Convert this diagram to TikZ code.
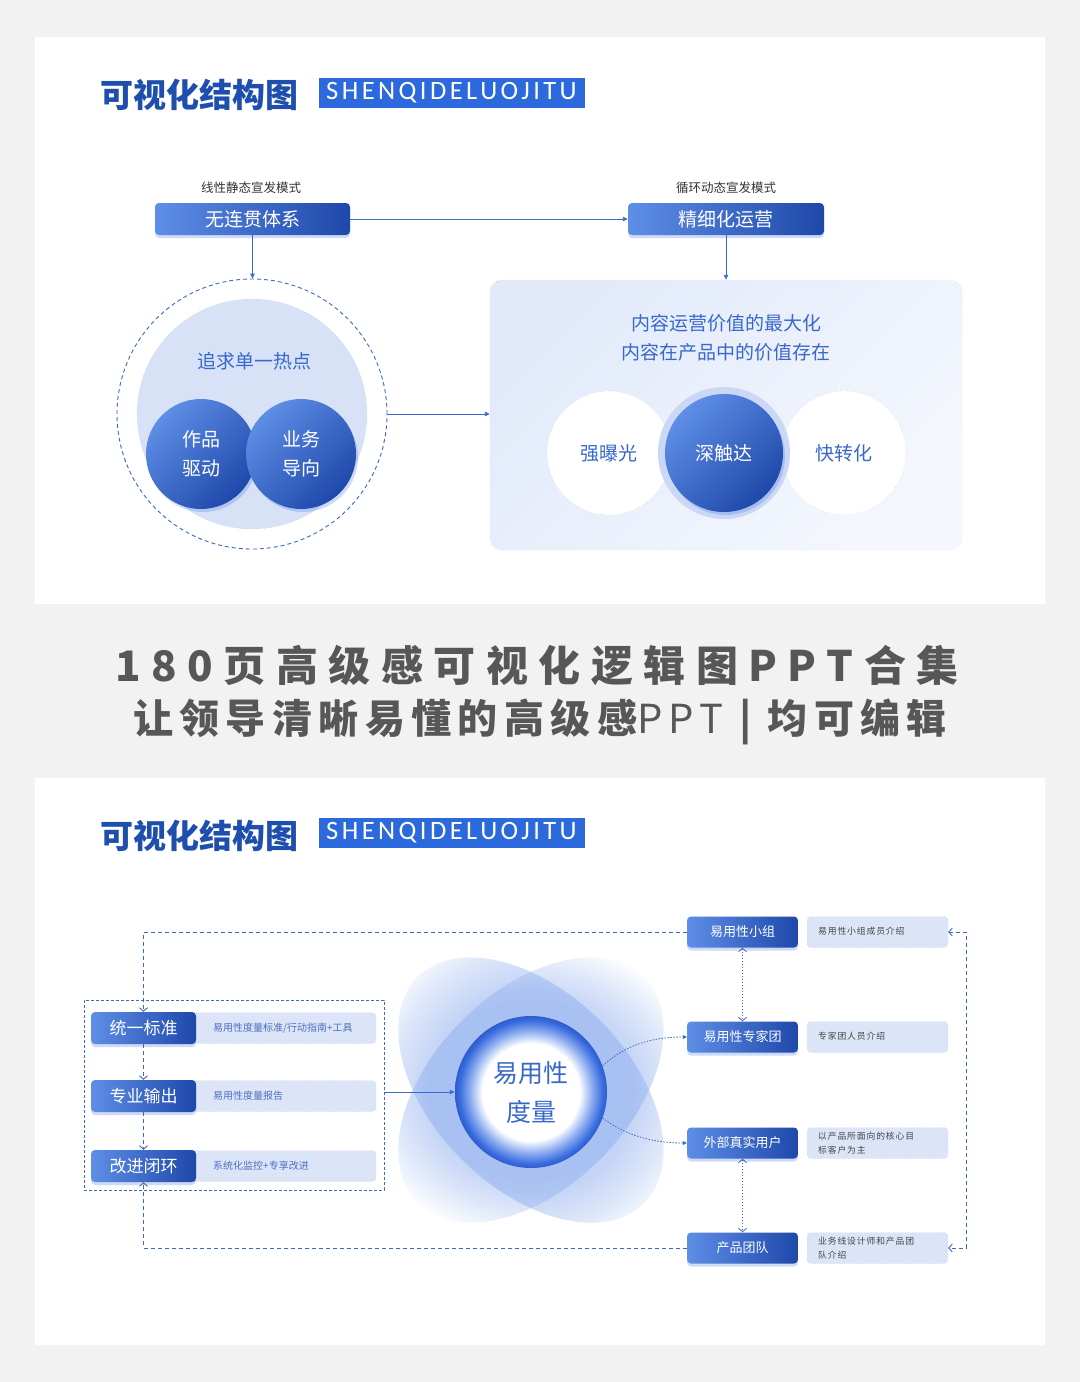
\documentclass[tikz,border=0pt]{standalone}
\usepackage{fontspec}
\setmainfont{Noto Sans CJK SC}
\newfontfamily\latinfont{Carlito}
\usetikzlibrary{arrows.meta,shadows,fadings,calc}
\definecolor{pagebg}{HTML}{F2F2F2}
\definecolor{boxlight}{HTML}{5E8EE6}
\definecolor{boxdark}{HTML}{1E48AA}
\definecolor{glowc}{HTML}{3D6FE0}
\definecolor{titleblue}{HTML}{1E4FAF}
\definecolor{tagblue}{HTML}{2B69DD}
\definecolor{textblue}{HTML}{3868CC}
\definecolor{lightcircle}{HTML}{D7E2F7}
\definecolor{dotgray}{HTML}{A8B8D8}
\definecolor{rbA}{HTML}{E2EAFA}
\definecolor{rbB}{HTML}{F4F7FD}
\definecolor{loopblue}{HTML}{3E68C2}
\definecolor{arrowblue}{HTML}{3A6AD0}
\definecolor{lightboxc}{HTML}{DCE5F8}
\definecolor{lightborder}{HTML}{A3B6E0}
\definecolor{smallblue}{HTML}{4D6FC0}
\definecolor{smallgray}{HTML}{444444}
\definecolor{midgray}{HTML}{575757}
\definecolor{labelgray}{HTML}{333333}
\definecolor{glowring}{HTML}{CAD8F6}
\definecolor{petalc}{HTML}{94B2EF}
\definecolor{ringmid}{HTML}{8FAEF0}
\definecolor{ringblue}{HTML}{3A6EE0}
\definecolor{ringdark}{HTML}{2D5CCB}
\pgfdeclareradialshading{ringsh}{\pgfpointorigin}{color(0bp)=(white); color(16bp)=(white); color(20bp)=(ringmid); color(23.5bp)=(ringblue); color(25bp)=(ringdark); color(50bp)=(ringdark)}
\pgfdeclareradialshading{petalsh}{\pgfpointorigin}{color(0bp)=(white); color(17bp)=(white); color(23bp)=(black!45); color(29bp)=(black); color(50bp)=(black)}
\pgfdeclarefading{petalfade}{\pgfuseshading{petalsh}}
\tikzset{
  darkbox/.style={rounded corners=4pt, left color=boxlight, right color=boxdark, text=white, inner sep=0pt,
    drop shadow={shadow xshift=0pt, shadow yshift=-3pt, fill=glowc, opacity=0.25}},
  darkcircle/.style={circle, inner sep=0pt, left color=boxlight, right color=boxdark, shading angle=45, text=white, align=center,
    drop shadow={shadow xshift=2pt, shadow yshift=-3pt, fill=glowc, opacity=0.25}},
  whitecircle/.style={circle, inner sep=0pt, fill=white, draw=dotgray, dotted, minimum size=124pt, text=textblue, font=\fontsize{19}{19}\selectfont},
  lightbox/.style={rounded corners=4pt, fill=lightboxc, draw=lightborder, dotted, inner sep=0pt},
  labeltxt/.style={text=labelgray, font=\fontsize{12.5}{13}\selectfont},
  smalltxtL/.style={text=smallblue, font=\fontsize{10}{12}\selectfont, inner sep=0pt},
  smalltxtR/.style={text=smallgray, font=\fontsize{8.8}{14}\selectfont\addfontfeature{LetterSpace=10}, inner sep=0pt, align=left},
  solidarrow/.style={draw=arrowblue, line width=0.9pt, -{Triangle[length=5pt,width=4.5pt]}},
  loopline/.style={draw=loopblue, line width=0.9pt, dash pattern=on 4pt off 3pt, >={Straight Barb[length=3.5pt,width=8pt]}},
  dotline/.style={draw=loopblue, line width=0.8pt, dash pattern=on 1.5pt off 1.5pt, >={Straight Barb[length=3.5pt,width=8pt]}},
  titletxt/.style={text=titleblue, font=\bfseries\fontsize{33}{33}\selectfont},
  tagbox/.style={fill=tagblue, minimum width=266pt, minimum height=30pt, inner sep=0pt, text=white, font=\latinfont\fontsize{26.5}{26.5}\selectfont\addfontfeature{LetterSpace=13}},
  petal/.style={fill=petalc, fill opacity=0.55, path fading=petalfade}
}
\begin{document}
\begin{tikzpicture}[x=1pt,y=-1pt]
\useasboundingbox (0,0) rectangle (1080,1382);
\fill[pagebg] (0,0) rectangle (1080,1382);
\fill[white] (35,37) rectangle (1045,604);
\fill[white] (35,778) rectangle (1045,1345);

% ---------- top panel ----------
\node[titletxt] (ttl1) at (199,95) {可视化结构图};
\node[tagbox] (tag1) at (451.5,93) {SHENQIDELUOJITU};

\node[labeltxt] (lab1) at (251,188) {线性静态宣发模式};
\node[labeltxt] (lab2) at (726,188) {循环动态宣发模式};
\node[darkbox, minimum width=195pt, minimum height=32pt, font=\fontsize{19}{19}\selectfont] (b1) at (252.5,219) {无连贯体系};
\node[darkbox, minimum width=196pt, minimum height=32pt, font=\fontsize{19}{19}\selectfont] (b2) at (726,219) {精细化运营};

\node[circle, draw=loopblue, line width=0.9pt, dash pattern=on 4pt off 3pt, minimum size=270pt, inner sep=0pt] (dc) at (252,414) {};
\node[circle, fill=lightcircle, draw=dotgray, dotted, minimum size=230pt, inner sep=0pt] (ic) at (252,414) {};
\node[text=textblue, font=\fontsize{19}{19}\selectfont] (ict) at (254,361) {追求单一热点};
\node[darkcircle, minimum size=110pt, font=\fontsize{19}{29}\selectfont] (c1) at (201,454) {作品\\驱动};
\node[darkcircle, minimum size=110pt, font=\fontsize{19}{29}\selectfont] (c2) at (301,454) {业务\\导向};

\node[rounded corners=12pt, minimum width=472pt, minimum height=270pt, inner sep=0pt, draw=dotgray, dotted, left color=rbA, right color=rbB, shading angle=45] (rb) at (726,415) {};
\node[text=textblue, font=\fontsize{19}{19}\selectfont] (r1) at (726,323) {内容运营价值的最大化};
\node[text=textblue, font=\fontsize{19}{19}\selectfont] (r2) at (726,352) {内容在产品中的价值存在};
\node[whitecircle] (w1) at (609,453) {强曝光};
\node[whitecircle] (w3) at (844,453) {快转化};
\node[circle, fill=glowring, minimum size=132pt, inner sep=0pt] (gr) at (724,453) {};
\node[darkcircle, minimum size=118pt, font=\fontsize{19}{19}\selectfont] (w2) at (724,453) {深触达};

\draw[solidarrow] (b1.east) -- (b2.west);
\draw[solidarrow] (b1.south) -- (b1.south |- dc.north);
\draw[solidarrow] (b2.south) -- (b2.south |- rb.north);
\draw[solidarrow] (dc.east) -- (dc.east -| rb.west);

% ---------- middle text ----------
\node[text=midgray, font=\fontsize{42}{44}\selectfont\bfseries\addfontfeature{LetterSpace=25}] (h1) at (537,666) {180页高级感可视化逻辑图PPT合集};
\node[text=midgray, font=\fontsize{40}{42}\selectfont\bfseries\addfontfeature{LetterSpace=16}] (h2) at (540,722) {让领导清晰易懂的高级感{\mdseries\addfontfeature{LetterSpace=16}PPT}\hspace{0.4em}|\hspace{0.4em}均可编辑};

% ---------- bottom panel ----------
\node[titletxt] (ttl2) at (199,836) {可视化结构图};
\node[tagbox] (tag2) at (451.5,833) {SHENQIDELUOJITU};

% petals
\fill[petal, rotate around={45:(531,1090)}] (531,1090) ellipse [x radius=160pt, y radius=98pt];
\fill[petal, rotate around={-45:(531,1090)}] (531,1090) ellipse [x radius=160pt, y radius=98pt];
\node[circle, minimum size=152pt, inner sep=0pt, shade, shading=ringsh, text=textblue, align=center, font=\fontsize{25}{39}\selectfont] (m) at (531,1092) {易用性\\度量};

% left group
\node[draw=loopblue, line width=0.9pt, dash pattern=on 3pt off 2pt, minimum width=300pt, minimum height=190pt, inner sep=0pt] (lr) at (234,1095) {};
\node[lightbox, minimum width=190pt, minimum height=31pt] (p1) at (281,1028) {};
\node[lightbox, minimum width=190pt, minimum height=31pt] (p2) at (281,1096) {};
\node[lightbox, minimum width=190pt, minimum height=31pt] (p3) at (281,1166) {};
\node[smalltxtL, anchor=west] (pt1) at (213,1028) {易用性度量标准/行动指南+工具};
\node[smalltxtL, anchor=west] (pt2) at (213,1096) {易用性度量报告};
\node[smalltxtL, anchor=west] (pt3) at (213,1166) {系统化监控+专享改进};
\node[darkbox, minimum width=105pt, minimum height=32pt, font=\fontsize{17}{17}\selectfont] (s1) at (143.5,1028) {统一标准};
\node[darkbox, minimum width=105pt, minimum height=32pt, font=\fontsize{17}{17}\selectfont] (s2) at (143.5,1096) {专业输出};
\node[darkbox, minimum width=105pt, minimum height=32pt, font=\fontsize{17}{17}\selectfont] (s3) at (143.5,1166) {改进闭环};

% right column
\node[darkbox, minimum width=111pt, minimum height=31pt, font=\fontsize{13}{13}\selectfont] (g1) at (742.5,932) {易用性小组};
\node[darkbox, minimum width=111pt, minimum height=31pt, font=\fontsize{13}{13}\selectfont] (g2) at (742.5,1037) {易用性专家团};
\node[darkbox, minimum width=111pt, minimum height=31pt, font=\fontsize{13}{13}\selectfont] (g3) at (742.5,1143) {外部真实用户};
\node[darkbox, minimum width=111pt, minimum height=31pt, font=\fontsize{13}{13}\selectfont] (g4) at (742.5,1248) {产品团队};
\node[lightbox, minimum width=141pt, minimum height=31pt] (q1) at (877.5,932) {};
\node[lightbox, minimum width=141pt, minimum height=31pt] (q2) at (877.5,1037) {};
\node[lightbox, minimum width=141pt, minimum height=31pt] (q3) at (877.5,1143) {};
\node[lightbox, minimum width=141pt, minimum height=31pt] (q4) at (877.5,1248) {};
\node[smalltxtR, anchor=west] (qt1) at (818,931) {易用性小组成员介绍};
\node[smalltxtR, anchor=west] (qt2) at (818,1036) {专家团人员介绍};
\node[smalltxtR, anchor=west] (qt3) at (818,1143) {以产品所面向的核心目\\标客户为主};
\node[smalltxtR, anchor=west] (qt4) at (818,1248) {业务线设计师和产品团\\队介绍};

% connectors
\draw[loopline, ->] (g1.west) -| (s1.north);
\draw[loopline, ->] (g4.west) -| (s3.south);
\draw[loopline, ->] (s1.south) -- (s2.north);
\draw[loopline, ->] (s2.south) -- (s3.north);
\draw[loopline, <->] (q1.east) -- ++(18,0) |- (q4.east);
\draw[dotline, <->] (g1.south) -- (g2.north);
\draw[dotline, <->] (g3.south) -- (g4.north);
\draw[solidarrow] (lr.east |- m.west) -- (m.west);
\draw[dotline, -{Triangle[length=4pt,width=4pt]}] (m.20) .. controls (624,1046) and (650,1037) .. (g2.west);
\draw[dotline, -{Triangle[length=4pt,width=4pt]}] (m.-20) .. controls (624,1134) and (650,1143) .. (g3.west);
\end{tikzpicture}
\end{document}
